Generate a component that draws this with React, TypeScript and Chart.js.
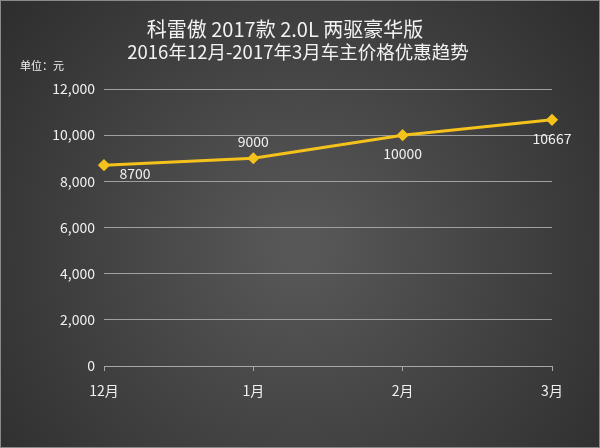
import React, { useEffect, useRef } from "react";
import { Chart, registerables } from "chart.js";

Chart.register(...registerables);

const months = ["12月", "1月", "2月", "3月"];
const prices = [8700, 9000, 10000, 10667];
const priceLabels = ["8700", "9000", "10000", "10667"];
const labelSpots = ["right", "top", "bottom", "bottom"];
const titleLines = ["科雷傲 2017款 2.0L 两驱豪华版", "2016年12月-2017年3月车主价格优惠趋势"];
const unitText = "单位：元";

const FONT = '"Noto Sans CJK SC", "Noto Sans", sans-serif';

const backdrop = {
  id: "backdrop",
  beforeDraw(chart: Chart) {
    const { ctx, width, height } = chart;
    ctx.save();
    const g = ctx.createRadialGradient(width / 2, height * 0.55, 20, width / 2, height * 0.55, width * 0.62);
    g.addColorStop(0, "#575757");
    g.addColorStop(1, "#2f2f2f");
    ctx.fillStyle = g;
    ctx.fillRect(0, 0, width, height);
    ctx.strokeStyle = "#8a8a8a";
    ctx.lineWidth = 1;
    ctx.strokeRect(0.5, 0.5, width - 1, height - 1);
    ctx.fillStyle = "#f2f2f2";
    ctx.textAlign = "center";
    ctx.textBaseline = "middle";
    ctx.font = `20px ${FONT}`;
    ctx.fillText(titleLines[0], 285, 29);
    ctx.font = `18.5px ${FONT}`;
    ctx.fillText(titleLines[1], 298, 52);
    ctx.font = `11px ${FONT}`;
    ctx.textAlign = "left";
    ctx.fillText(unitText, 20, 66);
    ctx.restore();
  },
};

const valueLabels = {
  id: "valueLabels",
  afterDatasetsDraw(chart: Chart) {
    const { ctx } = chart;
    const meta = chart.getDatasetMeta(0);
    ctx.save();
    ctx.font = `14px ${FONT}`;
    ctx.fillStyle = "#f0f0f0";
    ctx.textAlign = "center";
    ctx.textBaseline = "middle";
    meta.data.forEach((pt: any, i: number) => {
      let x = pt.x;
      let y = pt.y;
      if (labelSpots[i] === "right") {
        x += 31;
        y += 9;
      } else if (labelSpots[i] === "top") {
        y -= 17;
      } else {
        y += 19;
      }
      ctx.fillText(priceLabels[i], x, y);
    });
    ctx.restore();
  },
};

export default function App() {
  const ref = useRef<HTMLCanvasElement | null>(null);

  useEffect(() => {
    document.body.style.margin = "0";
    const ctx = ref.current?.getContext("2d");
    if (!ctx) return;
    const chart = new Chart(ctx, {
      type: "line",
      data: {
        labels: months,
        datasets: [
          {
            data: prices,
            borderColor: "#f5c21b",
            backgroundColor: "#f5c21b",
            borderWidth: 3,
            pointStyle: "rectRot",
            pointRadius: 4,
            pointBorderColor: "#f5c21b",
            pointBackgroundColor: "#f5c21b",
            tension: 0,
          },
        ],
      },
      options: {
        animation: false,
        responsive: false,
        layout: { padding: { top: 89, right: 48, bottom: 0, left: 0 } },
        plugins: {
          legend: { display: false },
          tooltip: { enabled: false },
          title: { display: false },
        },
        scales: {
          x: {
            offset: false,
            grid: {
              drawOnChartArea: false,
              drawTicks: true,
              tickLength: 5,
              color: "#a8a8a8",
            },
            border: { color: "#a8a8a8", width: 1 },
            ticks: { color: "#f0f0f0", font: { family: FONT, size: 14 }, padding: 11 },
            afterFit(scale: any) {
              scale.height = 82;
            },
          },
          y: {
            min: 0,
            max: 12000,
            ticks: {
              stepSize: 2000,
              color: "#f0f0f0",
              font: { family: FONT, size: 14 },
              padding: 9,
              callback: (v: any) => Number(v).toLocaleString("en-US"),
            },
            grid: { color: "#a0a0a0", drawTicks: false, lineWidth: 1 },
            border: { display: false },
            afterFit(scale: any) {
              scale.width = 104;
            },
          },
        },
      },
      plugins: [backdrop, valueLabels],
    });
    return () => chart.destroy();
  }, []);

  return <canvas ref={ref} width={600} height={448} style={{ display: "block" }} />;
}
